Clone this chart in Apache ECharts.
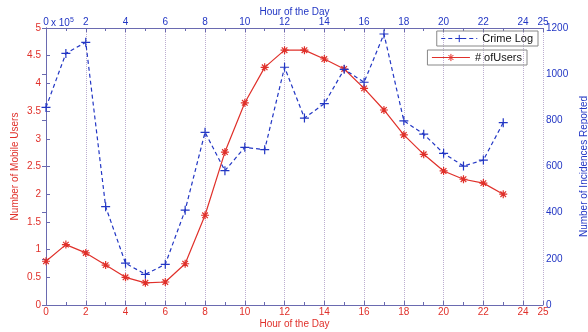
<!DOCTYPE html>
<html>
<head>
<meta charset="utf-8">
<script src="https://cdn.jsdelivr.net/npm/echarts@6/dist/echarts.min.js"></script>
<style>
  html, body { margin: 0; padding: 0; background: #fff; }
  #chart { width: 588px; height: 332px; }
</style>
</head>
<body>
<div id="chart"></div>
<script>
// hours 0..23
const hours = [0, 1, 2, 3, 4, 5, 6, 7, 8, 9, 10, 11, 12, 13, 14, 15, 16, 17, 18, 19, 20, 21, 22, 23];
// number of mobile users (x 10^5)
const users = [0.79, 1.09, 0.94, 0.72, 0.50, 0.40, 0.415, 0.745, 1.62, 2.76, 3.65, 4.29, 4.60, 4.60, 4.44, 4.26,
               3.91, 3.52, 3.07, 2.72, 2.42, 2.27, 2.20, 2.00];
// number of incidences reported
const crimes = [856, 1090, 1138, 426, 181, 133, 176, 411, 748, 582, 683, 673, 1030, 810, 872, 1021,
                965, 1174, 798, 740, 657, 602, 628, 790];

const red = "#e0302a";
const blue = "#2236c4";
const axisColor = "#6a6ab0";
const font = "Liberation Sans";

let chart = echarts.init(document.getElementById("chart"));

function xAxis(pos, color) {
    return {
        type: "value",
        position: pos,
        min: 0,
        max: 25,
        interval: 2,
        name: "Hour of the Day",
        nameLocation: "middle",
        nameGap: pos === "bottom" ? 14 : 11,
        nameMoveOverlap: false,
        nameTextStyle: { color: color, fontFamily: font, fontSize: 10 },
        axisLine: { show: true, onZero: false, lineStyle: { color: axisColor, width: 1 } },
        axisTick: { show: true, inside: true, length: 4, lineStyle: { color: axisColor } },
        minorTick: { show: true, splitNumber: 2, length: 3, lineStyle: { color: axisColor } },
        axisLabel: { color: color, fontFamily: font, fontSize: 10, margin: pos === "bottom" ? 2 : 1 },
        splitLine: pos === "bottom"
            ? { show: true, lineStyle: { color: "#bcaed0", type: "dotted", width: 1 } }
            : { show: false }
    };
}

let crossPath = "path://M5,0L5,10M0,5L10,5";
let starPath = "path://M5,0L5,10M0,5L10,5M1.5,1.5L8.5,8.5M8.5,1.5L1.5,8.5";

function legendBox(name, right, top, width) {
    return {
        data: [name],
        right: right,
        top: top,
        orient: "vertical",
        borderColor: "#888",
        borderWidth: 1,
        padding: [2, 5, 2, 4],
        itemWidth: width,
        itemHeight: 9,
        itemStyle: { borderWidth: 1 },
        lineStyle: { width: 1 },
        textStyle: { fontFamily: font, fontSize: 11, color: "#111" }
    };
}

let option = {
    animation: false,
    grid: { left: 46, right: 45, top: 28, bottom: 27, show: false, outerBoundsMode: "none" },
    legend: [
        legendBox("Crime Log", 50, 31, 36),
        legendBox("# ofUsers", 61, 50, 38)
    ],
    xAxis: [xAxis("bottom", red), xAxis("top", blue)],
    yAxis: [
        {
            type: "value",
            position: "left",
            min: 0,
            max: 5,
            interval: 0.5,
            name: "Number of Mobile Users",
            nameLocation: "middle",
            nameGap: 26,
            nameMoveOverlap: false,
            nameTextStyle: { color: red, fontFamily: font, fontSize: 10 },
            axisLine: { show: true, lineStyle: { color: axisColor } },
            axisTick: { show: true, inside: true, length: 4, lineStyle: { color: axisColor } },
            axisLabel: { color: red, fontFamily: font, fontSize: 10, margin: 5 },
            splitLine: { show: false }
        },
        {
            type: "value",
            position: "right",
            min: 0,
            max: 1200,
            interval: 200,
            name: "Number of Incidences Reported",
            nameLocation: "middle",
            nameGap: 36,
            nameRotate: 90,
            nameMoveOverlap: false,
            nameTextStyle: { color: blue, fontFamily: font, fontSize: 10 },
            axisLine: { show: true, lineStyle: { color: axisColor } },
            axisTick: { show: true, inside: true, length: 4, lineStyle: { color: axisColor } },
            axisLabel: { color: blue, fontFamily: font, fontSize: 10, margin: 3, formatter: v => String(v) },
            splitLine: { show: false }
        }
    ],
    graphic: [
        {
            type: "text",
            left: 51,
            top: 17,
            style: {
                text: "x 10{s|5}",
                fill: blue,
                font: "10px " + font,
                rich: { s: { fontSize: 7, verticalAlign: "top", fill: blue, padding: [0, 0, 6, 0] } }
            }
        }
    ],
    series: [
        {
            name: "Crime Log",
            type: "line",
            xAxisIndex: 0,
            yAxisIndex: 1,
            data: hours.map((h, i) => [h, crimes[i]]),
            symbol: crossPath,
            symbolSize: 9,
            lineStyle: { color: blue, width: 1.2, type: [4, 3] },
            itemStyle: { color: blue, borderColor: blue, borderWidth: 1.2 },
            z: 3
        },
        {
            name: "# ofUsers",
            type: "line",
            xAxisIndex: 0,
            yAxisIndex: 0,
            data: hours.map((h, i) => [h, users[i]]),
            symbol: starPath,
            symbolSize: 8,
            lineStyle: { color: red, width: 1.2 },
            itemStyle: { color: red, borderColor: red, borderWidth: 1.2 },
            z: 2
        }
    ]
};
chart.setOption(option);
</script>
</body>
</html>
